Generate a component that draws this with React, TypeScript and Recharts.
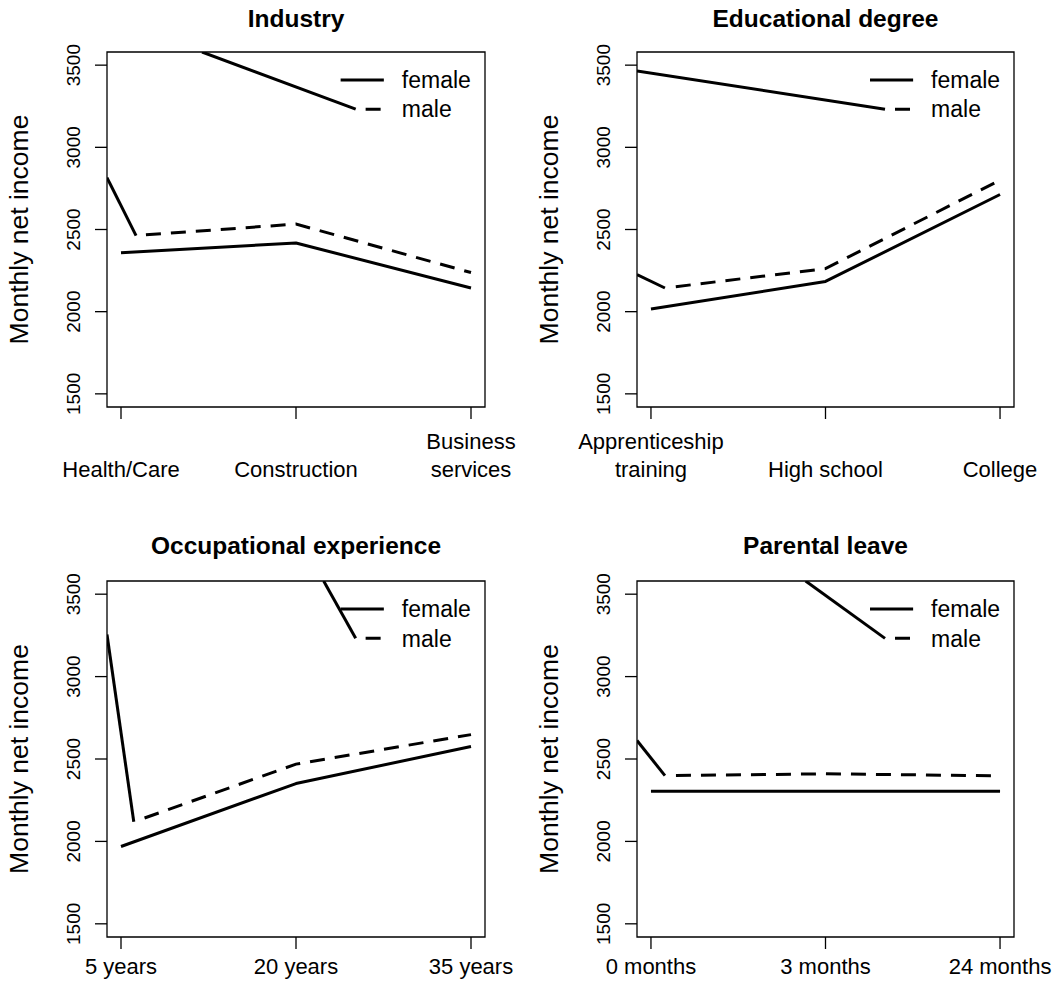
import React from 'react';
import { LineChart, Line, XAxis, YAxis, ReferenceArea, ReferenceLine } from 'recharts';

const FONT = '"Liberation Sans", Arial, Helvetica, sans-serif';

const yTicks = [1500, 2000, 2500, 3000, 3500];
const xTicks = [1, 2, 3];
const groups = ['female', 'male'];

// Industry
const industryLabels = ['\nHealth/Care', '\nConstruction', 'Business\nservices'];
const industryFemale = [2359, 2418, 2144];
const industryMale = [2457, 2533, 2238];
// stray strokes left by the original graphics device, [x, y] in axis units
const industryMaleStray = [[0.92, 2816], [1.086, 2463]];
const industryLegendStray = [[1.463, 3580], [2.341, 3232]];

// Educational degree
const educationLabels = ['Apprenticeship\ntraining', '\nHigh school', '\nCollege'];
const educationFemale = [2016, 2184, 2713];
const educationMale = [2134, 2262, 2800];
const educationMaleStray = [[0.92, 2225], [1.08, 2144]];
const educationLegendStray = [[0.92, 3465], [2.341, 3232]];

// Occupational experience
const experienceLabels = ['5 years', '20 years', '35 years'];
const experienceFemale = [1969, 2351, 2576];
const experienceMale = [2091, 2469, 2648];
const experienceMaleStray = [[0.92, 3255], [1.073, 2119]];
const experienceLegendStray = [[2.158, 3580], [2.341, 3232]];

// Parental leave
const leaveLabels = ['0 months', '3 months', '24 months'];
const leaveFemale = [2305, 2305, 2305];
const leaveMale = [2398, 2410, 2398];
const leaveMaleStray = [[0.92, 2612], [1.08, 2399]];
const leaveLegendStray = [[1.886, 3580], [2.341, 3232]];

// R-style dashes; the first dash of every male path got replaced by the stray stroke
const maleDash = '0 25 ' + Array(40).fill('15 10').join(' ');

type Box = { left: number; top: number; right: number; bottom: number };

type PanelProps = {
  title: string;
  labels: string[];
  female: number[];
  male: number[];
  maleStray: number[][];
  legendStray: number[][];
  left: number;
  top: number;
  width: number;
  height: number;
  box: Box;
  labelBase: number;
  titleGap: number;
};

const toPts = (vals: number[]) => vals.map((y, i) => ({ x: xTicks[i], y }));
const toXY = (pts: number[][]) => pts.map(([x, y]) => ({ x, y }));

const Panel = (p: PanelProps) => {
  const { box } = p;
  const cx = (box.left + box.right) / 2;
  const cy = (box.top + box.bottom) / 2;
  const yl = box.left - 79;

  const renderXTick = (t: any) => {
    const lines = p.labels[t.payload.value - 1].split('\n');
    const base = box.bottom + p.labelBase;
    return (
      <text textAnchor="middle" fontSize={22} fontFamily={FONT} fill="#000">
        {lines.map((ln, i) => (
          <tspan key={i} x={t.x} y={base - (lines.length - 1 - i) * 28.5}>
            {ln}
          </tspan>
        ))}
      </text>
    );
  };

  const renderYTick = (t: any) => (
    <text
      x={t.x}
      y={t.y}
      transform={`rotate(-90 ${t.x} ${t.y})`}
      textAnchor="middle"
      fontSize={19}
      fontFamily={FONT}
      fill="#000"
    >
      {t.payload.value}
    </text>
  );

  const legendLabel = (value: string) => ({
    value,
    position: 'right' as const,
    offset: 18,
    fill: '#000',
    fontSize: 23,
    fontFamily: FONT,
  });

  return (
    <div style={{ position: 'absolute', left: p.left, top: p.top, width: p.width, height: p.height }}>
      <LineChart
        width={p.width}
        height={p.height}
        margin={{ top: box.top, right: p.width - box.right, left: 0, bottom: 0 }}
      >
        <XAxis
          type="number"
          dataKey="x"
          domain={[0.92, 3.08]}
          ticks={xTicks}
          allowDataOverflow
          height={p.height - box.bottom}
          axisLine={false}
          tickLine={{ stroke: '#000', strokeWidth: 1.3 }}
          tickSize={12}
          tickMargin={0}
          tick={renderXTick}
          interval={0}
        />
        <YAxis
          type="number"
          domain={[1420, 3580]}
          ticks={yTicks}
          allowDataOverflow
          width={box.left}
          axisLine={false}
          tickLine={{ stroke: '#000', strokeWidth: 1.3 }}
          tickSize={12}
          tickMargin={15}
          tick={renderYTick}
          interval={0}
        />
        <ReferenceArea
          x1={0.92}
          x2={3.08}
          y1={1420}
          y2={3580}
          fill="none"
          fillOpacity={0}
          stroke="#000"
          strokeWidth={1.3}
          ifOverflow="visible"
        />
        <Line
          data={toPts(p.female)}
          dataKey="y"
          name={groups[0]}
          type="linear"
          stroke="#000"
          strokeWidth={3}
          strokeLinejoin="round"
          dot={false}
          activeDot={false}
          isAnimationActive={false}
        />
        <Line
          data={toPts(p.male)}
          dataKey="y"
          name={groups[1]}
          type="linear"
          stroke="#000"
          strokeWidth={3}
          strokeDasharray={maleDash}
          strokeLinecap="butt"
          dot={false}
          activeDot={false}
          isAnimationActive={false}
        />
        <Line
          data={toXY(p.maleStray)}
          dataKey="y"
          type="linear"
          stroke="#000"
          strokeWidth={3}
          dot={false}
          activeDot={false}
          isAnimationActive={false}
        />
        <Line
          data={toXY(p.legendStray)}
          dataKey="y"
          type="linear"
          stroke="#000"
          strokeWidth={3}
          dot={false}
          activeDot={false}
          isAnimationActive={false}
        />
        <ReferenceLine
          segment={[{ x: 2.255, y: 3410 }, { x: 2.502, y: 3410 }]}
          stroke="#000"
          strokeWidth={3}
          label={legendLabel(groups[0])}
        />
        <ReferenceLine
          segment={[{ x: 2.255, y: 3232 }, { x: 2.502, y: 3232 }]}
          stroke="#000"
          strokeWidth={3}
          strokeDasharray={maleDash}
          label={legendLabel(groups[1])}
        />
      </LineChart>
      <svg
        width={p.width}
        height={p.height}
        style={{ position: 'absolute', left: 0, top: 0, pointerEvents: 'none' }}
      >
        <text
          x={cx}
          y={box.top - p.titleGap}
          textAnchor="middle"
          fontWeight="bold"
          fontSize={24.5}
          fontFamily={FONT}
        >
          {p.title}
        </text>
        <text
          x={yl}
          y={cy}
          transform={`rotate(-90 ${yl} ${cy})`}
          textAnchor="middle"
          fontSize={26.5}
          fontFamily={FONT}
        >
          Monthly net income
        </text>
      </svg>
    </div>
  );
};

export default function App() {
  const boxL = { left: 107, top: 52, right: 485, bottom: 407 };
  const boxR = { left: 109, top: 52, right: 486, bottom: 407 };
  const boxL2 = { left: 107, top: 91, right: 485, bottom: 447 };
  const boxR2 = { left: 109, top: 91, right: 486, bottom: 447 };
  return (
    <div
      style={{
        position: 'absolute',
        left: 0,
        top: 0,
        width: 1057,
        height: 986,
        background: '#fff',
        overflow: 'hidden',
      }}
    >
      <Panel
        title="Industry"
        labels={industryLabels}
        female={industryFemale}
        male={industryMale}
        maleStray={industryMaleStray}
        legendStray={industryLegendStray}
        left={0}
        top={0}
        width={528}
        height={490}
        box={boxL}
        labelBase={70}
        titleGap={25}
      />
      <Panel
        title="Educational degree"
        labels={educationLabels}
        female={educationFemale}
        male={educationMale}
        maleStray={educationMaleStray}
        legendStray={educationLegendStray}
        left={528}
        top={0}
        width={529}
        height={490}
        box={boxR}
        labelBase={70}
        titleGap={25}
      />
      <Panel
        title="Occupational experience"
        labels={experienceLabels}
        female={experienceFemale}
        male={experienceMale}
        maleStray={experienceMaleStray}
        legendStray={experienceLegendStray}
        left={0}
        top={490}
        width={528}
        height={496}
        box={boxL2}
        labelBase={37}
        titleGap={27}
      />
      <Panel
        title="Parental leave"
        labels={leaveLabels}
        female={leaveFemale}
        male={leaveMale}
        maleStray={leaveMaleStray}
        legendStray={leaveLegendStray}
        left={528}
        top={490}
        width={529}
        height={496}
        box={boxR2}
        labelBase={37}
        titleGap={27}
      />
    </div>
  );
}
